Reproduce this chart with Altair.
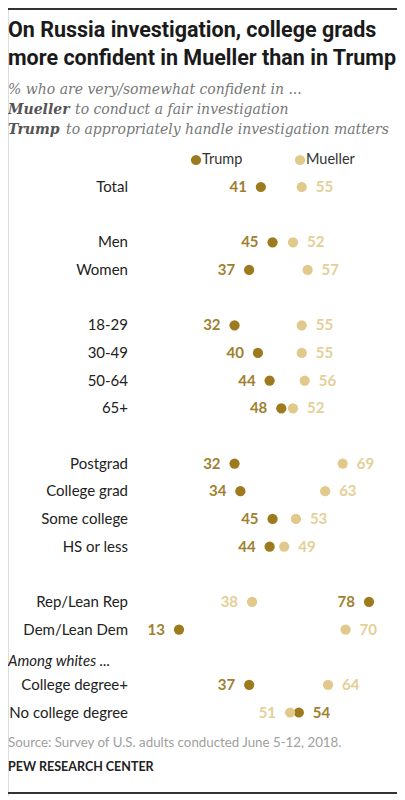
import altair as alt
import pandas as pd

# ---- data ----
categories = ["Total", "Men", "Women", "18-29", "30-49", "50-64", "65+",
              "Postgrad", "College grad", "Some college", "HS or less",
              "Rep/Lean Rep", "Dem/Lean Dem", "College degree+", "No college degree"]
trump = [41, 45, 37, 32, 40, 44, 48, 32, 34, 45, 44, 78, 13, 37, 54]
mueller = [55, 52, 57, 55, 55, 56, 52, 69, 63, 53, 49, 38, 70, 64, 51]

# row order (blank keys are spacer rows)
row_order = ["Total", "_b1", "Men", "Women", "_b2", "18-29", "30-49", "50-64", "65+",
             "_b3", "Postgrad", "College grad", "Some college", "HS or less", "_b4",
             "Rep/Lean Rep", "Dem/Lean Dem", "Among whites ...", "College degree+",
             "No college degree"]

title_lines = ["On Russia investigation, college grads",
               "more confident in Mueller than in Trump"]
subtitle_line1 = "% who are very/somewhat confident in ..."
sub_bold = ["Mueller", "Trump"]
sub_rest = ["to conduct  a fair investigation",
            "to appropriately handle investigation matters"]
source_text = "Source: Survey of U.S. adults conducted June 5-12, 2018."
credit_text = "PEW RESEARCH CENTER"

TRUMP_C = "#9E7A1E"
MUELLER_C = "#E0C98A"
TRUMP_T = "#A08030"
MUELLER_T = "#E3CF98"

W, H = 389, 788


def side_of(v, other):
    # lower value labelled on the left, higher on the right;
    # values near the right edge are labelled on the left
    if v >= 75:
        return "left"
    return "left" if v < other else "right"


rows = []
for c, t, m in zip(categories, trump, mueller):
    rows.append({"cat": c, "series": "Trump", "value": t,
                 "side": "left" if t == m else side_of(t, m)})
    rows.append({"cat": c, "series": "Mueller", "value": m,
                 "side": side_of(m, t) if t != m else "right"})
df = pd.DataFrame(rows)

xs = alt.Scale(domain=[0, 100], range=[133, 425.3])
ys = alt.Scale(type="point", domain=row_order, range=[179, 704.5], padding=0)

X = alt.X("value:Q", scale=xs, axis=None)
Y = alt.Y("cat:N", scale=ys, axis=None)

base = alt.Chart(df)

trump_dots = base.transform_filter(alt.datum.series == "Trump").mark_circle(
    size=105, opacity=1, color=TRUMP_C).encode(x=X, y=Y)
mueller_dots = base.transform_filter(alt.datum.series == "Mueller").mark_circle(
    size=105, opacity=1, color=MUELLER_C).encode(x=X, y=Y)


def labels(series, side, color):
    return base.transform_filter(
        (alt.datum.series == series) & (alt.datum.side == side)
    ).mark_text(
        align="right" if side == "left" else "left",
        dx=-14 if side == "left" else 14,
        baseline="middle", font="Lato", fontWeight="bold", fontSize=15, color=color
    ).encode(x=X, y=Y, text=alt.Text("value:Q"))


label_layers = [labels("Trump", "left", TRUMP_T), labels("Trump", "right", TRUMP_T),
                labels("Mueller", "left", MUELLER_T), labels("Mueller", "right", MUELLER_T)]

cat_df = pd.DataFrame({"cat": categories})
row_labels = alt.Chart(cat_df).mark_text(
    align="right", baseline="middle", font="Lato", fontSize=15, color="#222222"
).encode(x=alt.value(120), y=alt.Y("cat:N", scale=ys, axis=None), text="cat:N")

among = alt.Chart(pd.DataFrame({"cat": ["Among whites ..."]})).mark_text(
    align="left", baseline="middle", font="Lato", fontSize=15, fontStyle="italic",
    color="#222222", dy=4
).encode(x=alt.value(0), y=alt.Y("cat:N", scale=ys, axis=None), text="cat:N")


def txt(s, x, y, **kw):
    return alt.Chart(pd.DataFrame({"t": [s]})).mark_text(
        align="left", baseline="middle", **kw
    ).encode(x=alt.value(x), y=alt.value(y), text="t:N")


title_layers = [txt(title_lines[0], 0, 23, font="Roboto", fontWeight="bold", fontSize=21.5, color="#1a1a1a"),
                txt(title_lines[1], 0, 51, font="Roboto", fontWeight="bold", fontSize=21.5, color="#1a1a1a")]

SERIF = "DejaVu Serif"
sub_layers = [
    txt(subtitle_line1, 0, 82, font=SERIF, fontStyle="italic", fontSize=14, color="#777777"),
    txt(sub_bold[0], 0, 102, font=SERIF, fontStyle="italic", fontWeight="bold", fontSize=14, color="#555555"),
    txt(sub_rest[0], 67, 102, font=SERIF, fontStyle="italic", fontSize=14, color="#777777"),
    txt(sub_bold[1], 0, 122, font=SERIF, fontStyle="italic", fontWeight="bold", fontSize=14, color="#555555"),
    txt(sub_rest[1], 58, 122, font=SERIF, fontStyle="italic", fontSize=14, color="#777777"),
]


def dot(x, y, color):
    return alt.Chart(pd.DataFrame({"t": [0]})).mark_circle(
        size=105, opacity=1, color=color).encode(x=alt.value(x), y=alt.value(y))


legend_layers = [
    dot(188, 152, TRUMP_C), txt("Trump", 194, 152, font="Lato", fontSize=14.5, color="#333333"),
    dot(292, 152, MUELLER_C), txt("Mueller", 298, 152, font="Lato", fontSize=14.5, color="#333333"),
]

foot_layers = [
    txt(source_text, 0, 735, font="Lato", fontSize=13.3, color="#a0a0a0"),
    txt(credit_text, 0, 759, font="Lato", fontWeight="bold", fontSize=12.5, color="#222222"),
]


def hrule(y):
    return alt.Chart(pd.DataFrame({"t": [0]})).mark_rule(
        color="#333333", strokeWidth=2).encode(x=alt.value(0), x2=alt.value(W), y=alt.value(y))


chart = alt.layer(
    hrule(1), hrule(785),
    *title_layers, *sub_layers, *legend_layers,
    row_labels, among,
    trump_dots, mueller_dots, *label_layers,
    *foot_layers
).properties(
    width=W, height=H, padding=0,
    autosize=alt.AutoSizeParams(type="none")
).configure_view(stroke=None).configure(background="white")

chart.save("out.html", embed_options={"renderer": "svg", "actions": False})
